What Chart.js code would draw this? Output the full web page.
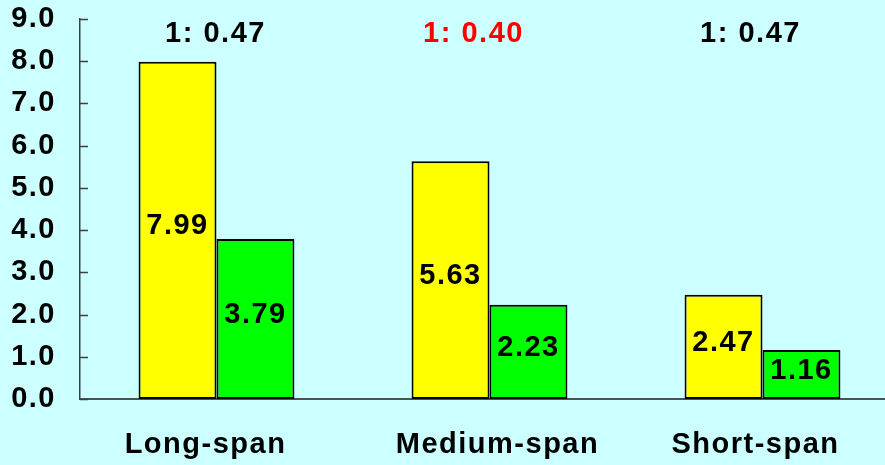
<!DOCTYPE html>
<html>
<head>
<meta charset="utf-8">
<script src="https://cdn.jsdelivr.net/npm/chart.js@4.4.1/dist/chart.umd.min.js"></script>
<style>
  html, body { margin: 0; padding: 0; background: #ccffff; overflow: hidden; }
  #wrap { width: 900px; height: 465px; }
</style>
</head>
<body>
<div id="wrap"><canvas id="c" width="900" height="465"></canvas></div>
<script>
const categories = ['Long-span', 'Medium-span', 'Short-span'];
const yellowValues = [7.99, 5.63, 2.47];
const greenValues = [3.79, 2.23, 1.16];
const ratioLabels = ['1: 0.47', '1: 0.40', '1: 0.47'];
const ratioColors = ['#000000', '#ff0000', '#000000'];
const ratioOffsets = [-1, -16, -12];
const categoryOffsets = [-11, 8, -7];

const FONT = 'Liberation Sans, Arial, sans-serif';
const SPACING = '1.5px';

// Wider text tracking for every label the chart draws.
const tracking = {
  id: 'tracking',
  beforeLayout(chart) { chart.ctx.letterSpacing = SPACING; },
  beforeDraw(chart) { chart.ctx.letterSpacing = SPACING; }
};

// Value labels inside each bar, ratio labels above each group,
// category names under the axis and short inward tick marks.
const overlay = {
  id: 'overlay',
  afterDatasetsDraw(chart) {
    const ctx = chart.ctx;
    const x = chart.scales.x, y = chart.scales.y;
    const area = chart.chartArea;
    ctx.save();
    ctx.letterSpacing = SPACING;
    ctx.font = 'bold 29px ' + FONT;
    ctx.textAlign = 'center';
    ctx.textBaseline = 'middle';
    ctx.fillStyle = '#000';
    chart.data.datasets.forEach((ds, di) => {
      chart.getDatasetMeta(di).data.forEach((bar, i) => {
        const mid = (bar.y + bar.base) / 2 - 4;
        ctx.fillText(ds.data[i].toFixed(2), bar.x, mid);
      });
    });
    ratioLabels.forEach((t, i) => {
      ctx.fillStyle = ratioColors[i];
      ctx.fillText(t, x.getPixelForValue(i) + ratioOffsets[i], 34);
    });
    ctx.fillStyle = '#000';
    categories.forEach((c, i) => {
      ctx.fillText(c, x.getPixelForValue(i) + categoryOffsets[i], area.bottom + 46);
    });
    ctx.strokeStyle = '#404040';
    ctx.lineWidth = 1.5;
    y.ticks.forEach(t => {
      const py = Math.round(y.getPixelForValue(t.value)) + 0.5;
      ctx.beginPath();
      ctx.moveTo(area.left, py);
      ctx.lineTo(area.left + 8, py);
      ctx.stroke();
    });
    ctx.restore();
  }
};

new Chart(document.getElementById('c'), {
  type: 'bar',
  data: {
    labels: categories,
    datasets: [
      { data: yellowValues, backgroundColor: '#ffff00', borderColor: '#000000', borderWidth: 2, borderSkipped: false },
      { data: greenValues, backgroundColor: '#00ff00', borderColor: '#000000', borderWidth: 2, borderSkipped: false }
    ]
  },
  options: {
    responsive: false,
    animation: false,
    devicePixelRatio: 1,
    categoryPercentage: 0.571,
    barPercentage: 1.0,
    layout: { padding: { top: 0, right: 1, left: 0, bottom: 0 } },
    plugins: { legend: { display: false }, tooltip: { enabled: false } },
    scales: {
      x: {
        grid: { display: false, drawTicks: false },
        border: { display: true, color: '#505050', width: 2 },
        ticks: { display: false },
        afterFit(s) { s.height = 66; s.paddingLeft = 0; s.paddingRight = 0; }
      },
      y: {
        min: 0, max: 9,
        grid: { display: false, drawTicks: false },
        border: { display: true, color: '#404040', width: 1.5 },
        ticks: {
          stepSize: 1, color: '#000', padding: 24,
          font: { family: FONT, size: 29, weight: 'bold' },
          callback: v => Number(v).toFixed(1)
        },
        afterFit(s) { s.width = 80; s.paddingTop = 19; s.paddingBottom = 0; }
      }
    }
  },
  plugins: [tracking, overlay]
});
</script>
</body>
</html>
